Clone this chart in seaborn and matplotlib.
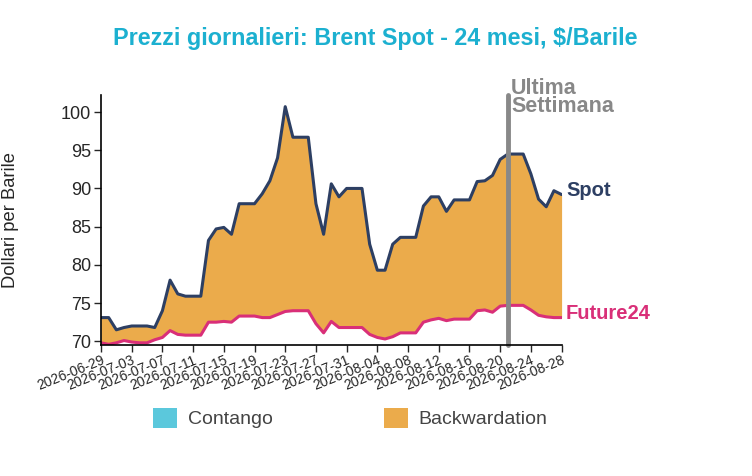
import numpy as np
import pandas as pd
import matplotlib
matplotlib.use("Agg")
import matplotlib.pyplot as plt
import matplotlib.dates as mdates
from matplotlib.patches import Patch
import seaborn as sns

#---------------------------------------------------
#   dati (prezzi giornalieri, $/barile)
#---------------------------------------------------
start_date = "2026-06-29"
end_date = "2026-08-28"
last_week_date = "2026-08-21"

spot = [73.1, 73.1, 71.5, 71.8, 72.0, 72.0, 72.0, 71.8, 74.0, 78.0,
        76.2, 75.9, 75.9, 75.9, 83.2, 84.7, 84.9, 84.0, 88.0, 88.0,
        88.0, 89.3, 91.0, 94.0, 100.7, 96.7, 96.7, 96.7, 88.0, 84.0,
        90.6, 88.9, 90.0, 90.0, 90.0, 82.7, 79.3, 79.3, 82.7, 83.6,
        83.6, 83.6, 87.7, 88.9, 88.9, 87.0, 88.5, 88.5, 88.5, 90.9,
        91.0, 91.7, 93.8, 94.5, 94.5, 94.5, 91.9, 88.6, 87.6, 89.7,
        89.2]

future24 = [69.8, 69.6, 69.8, 70.1, 69.9, 69.8, 69.8, 70.2, 70.5, 71.4,
            70.9, 70.8, 70.8, 70.8, 72.5, 72.5, 72.6, 72.5, 73.3, 73.3,
            73.3, 73.1, 73.1, 73.5, 73.9, 74.0, 74.0, 74.0, 72.3, 71.1,
            72.6, 71.8, 71.8, 71.8, 71.8, 70.9, 70.5, 70.3, 70.6, 71.1,
            71.1, 71.1, 72.5, 72.8, 73.0, 72.7, 72.9, 72.9, 72.9, 74.0,
            74.1, 73.8, 74.6, 74.7, 74.7, 74.7, 74.1, 73.4, 73.2, 73.1,
            73.1]

y_ticks = [70, 75, 80, 85, 90, 95, 100]

col_spot = "#2d3f63"
col_future = "#d92f78"
col_back = "#ebab4b"
col_cont = "#5bc8dc"
col_title = "#1cb0d0"
col_gray = "#888888"

dates = pd.date_range(start_date, end_date, freq="D")
df = pd.DataFrame({"DateTime": dates, "Spot": spot, "Future24": future24})

sns.set_style("white")
plt.rcParams["font.family"] = ["Liberation Sans", "DejaVu Sans"]

fig = plt.figure(figsize=(7.52, 4.76), dpi=100)
ax = fig.add_axes([0.1343, 0.275, 0.6125, 0.525])

s = df["Spot"].to_numpy()
f = df["Future24"].to_numpy()
ax.fill_between(df["DateTime"], f, s, where=s >= f, interpolate=True,
                color=col_back, linewidth=0)
ax.fill_between(df["DateTime"], f, s, where=s < f, interpolate=True,
                color=col_cont, linewidth=0)

sns.lineplot(data=df, x="DateTime", y="Spot", color=col_spot, linewidth=2.2,
             solid_joinstyle="round", solid_capstyle="round", ax=ax)
sns.lineplot(data=df, x="DateTime", y="Future24", color=col_future, linewidth=2.2,
             solid_joinstyle="round", solid_capstyle="round", ax=ax)

# linea ultima settimana
lw_date = pd.Timestamp(last_week_date)
ax.axvline(lw_date, ymin=0, ymax=1, color=col_gray, linewidth=3.5, clip_on=False)
ax.text(lw_date + pd.Timedelta(hours=10), 99.3, "Ultima\nSettimana", color=col_gray,
        fontsize=15.5, fontweight="bold", ha="left", va="bottom", linespacing=0.85)

# etichette serie
ax.text(dates[-1] + pd.Timedelta(hours=14), spot[-1] + 0.5, "Spot", color=col_spot,
        fontsize=14.5, fontweight="bold", ha="left", va="center")
ax.text(dates[-1] + pd.Timedelta(hours=14), future24[-1] + 0.5, "Future24", color=col_future,
        fontsize=14.5, fontweight="bold", ha="left", va="center")

ax.set_xlim(dates[0], dates[-1])
ax.set_ylim(69.5, 102.2)
ax.set_yticks(y_ticks)
ax.set_xticks(dates[::4])
ax.xaxis.set_major_formatter(mdates.DateFormatter("%Y-%m-%d"))
ax.tick_params(axis="y", labelsize=13, length=5, width=1, direction="out", left=True, pad=2)
ax.tick_params(axis="x", labelsize=10, length=5, width=1, direction="out", bottom=True, pad=1)
plt.setp(ax.get_xticklabels(), rotation=22, ha="right", rotation_mode="anchor")

for side in ["top", "right"]:
    ax.spines[side].set_visible(False)
for side in ["left", "bottom"]:
    ax.spines[side].set_color("black")
    ax.spines[side].set_linewidth(1.2)

ax.set_xlabel("")
ax.set_ylabel("Dollari per Barile", fontsize=13.2, labelpad=30)

fig.text(0.499, 0.92, "Prezzi giornalieri: Brent Spot - 24 mesi, $/Barile",
         color=col_title, fontsize=16.8, fontweight="bold", ha="center", va="center")

handles = [Patch(facecolor=col_cont, edgecolor="none", label="Contango"),
           Patch(facecolor=col_back, edgecolor="none", label="Backwardation")]
fig.legend(handles=handles, loc="center", bbox_to_anchor=(0.466, 0.122), ncol=2,
           frameon=False, fontsize=14, handlelength=1.25, handleheight=1.25,
           columnspacing=5.7, handletextpad=0.55, labelcolor="#444444")

fig.savefig("out.png", dpi=100)
